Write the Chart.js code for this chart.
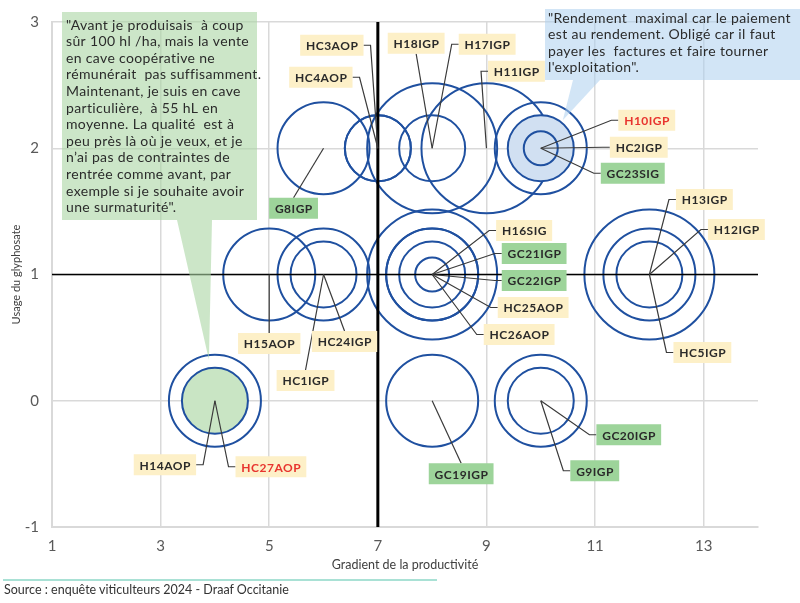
<!DOCTYPE html>
<html lang="fr">
<head>
<meta charset="utf-8">
<script src="https://cdn.jsdelivr.net/npm/chart.js@4.4.1/dist/chart.umd.min.js"></script>
<style>
html, body { margin: 0; padding: 0; background: #fff; }
#cadre { position: relative; width: 800px; height: 603px; }
#source { position: absolute; left: 4px; top: 582px; font: 12.5px 'Lato', sans-serif; color: #333; }
#trait { position: absolute; left: 3px; top: 579px; width: 434px; height: 2px; background: #a9e1d5; }
</style>
</head>
<body>
<div id="cadre">
  <canvas id="bulles" width="800" height="603"></canvas>
  <div id="trait"></div>
  <div id="source">Source : enquête viticulteurs 2024 - Draaf Occitanie</div>
</div>
<script>
// Données : une exploitation par bulle
const etiquettes = ['HC3AOP', 'HC4AOP', 'H18IGP', 'H17IGP', 'H11IGP', 'H10IGP', 'HC2IGP', 'GC23SIG', 'G8IGP',
    'H13IGP', 'H12IGP', 'HC5IGP', 'H16SIG', 'GC21IGP', 'GC22IGP', 'HC25AOP', 'HC26AOP', 'H15AOP', 'HC24IGP', 'HC1IGP',
    'H14AOP', 'HC27AOP', 'GC19IGP', 'GC20IGP', 'G9IGP'];
const gradient = [7, 7, 8, 8, 9, 10, 10, 10, 6, 12, 12, 12, 8, 8, 8, 8, 8, 5, 6, 6, 4, 4, 8, 10, 10];
const glyphosate = [2, 2, 2, 2, 2, 2, 2, 2, 2, 1, 1, 1, 1, 1, 1, 1, 1, 1, 1, 1, 0, 0, 0, 0, 0];
const classeTaille = [2, 2, 2, 4, 4, 2, 3, 1, 3, 4, 2, 3, 4, 1, 2, 3, 3, 3, 3, 2, 3, 2, 3, 3, 2];
const enValeur = ['H10IGP', 'HC27AOP'];

const ticksX = [1, 3, 5, 7, 9, 11, 13];
const ticksY = [-1, 0, 1, 2, 3];
const medianeX = 7;
const medianeY = 1;

const citationCave = [
    '"Avant je produisais  à coup',
    'sûr 100 hl /ha, mais la vente',
    'en cave coopérative ne',
    'rémunérait  pas suffisamment.',
    'Maintenant, je suis en cave',
    'particulière,  à 55 hL en',
    'moyenne. La qualité  est à',
    'peu près là où je veux, et je',
    'n\u2019ai pas de contraintes de',
    'rentrée comme avant, par',
    'exemple si je souhaite avoir',
    'une surmaturité".'
];
const citationRendement = [
    '"Rendement  maximal car le paiement',
    'est au rendement. Obligé car il faut',
    'payer les  factures et faire tourner',
    'l\'exploitation".'
];

// Mise en forme (pixels)
const rayons = [0, 17, 33, 46, 65];
const placement = {
    HC3AOP: [-46, -103, 'r'], HC4AOP: [-57, -71, 'r'], H18IGP: [-16, -105, 'b'], H17IGP: [55, -104, 'l'],
    H11IGP: [30, -77, 'l'], H10IGP: [106, -28, 'l'], HC2IGP: [98, -1, 'l'], GC23SIG: [92, 25, 'l'],
    G8IGP: [-30, 60, 't'], H13IGP: [55, -75, 'l'], H12IGP: [87, -45, 'l'], HC5IGP: [53, 78, 'l'],
    H16SIG: [92, -44, 'l'], GC21IGP: [102, -21, 'l'], GC22IGP: [102, 6, 'l'], HC25AOP: [101, 33, 'l'],
    HC26AOP: [87, 60, 'l'], H15AOP: [0, 69, 't'], HC24IGP: [21, 67, 't'], HC1IGP: [-18, 106, 't'],
    H14AOP: [-50, 64, 'r'], HC27AOP: [56, 66, 'l'], GC19IGP: [29, 73, 't'], GC20IGP: [88, 34, 'l'],
    G9IGP: [54, 70, 'l']
};
const bulles = [
    { cible: 'HC27AOP', boite: [62, 12, 195, 208], base: [177, 212], pointe: [-6, -41],
      couleur: 'rgba(170, 213, 163, 0.6)', lignes: citationCave, tx: 66, ty: 25 },
    { cible: 'H10IGP', boite: [545, 9, 255, 71], base: [573, 600], pointe: [22, -28],
      couleur: 'rgba(173, 207, 238, 0.55)', lignes: citationRendement, tx: 548, ty: 18 }
];

const ordre = etiquettes.map((_, i) => i).sort((a, b) => classeTaille[b] - classeTaille[a]);
const points = ordre.map(i => ({ x: gradient[i], y: glyphosate[i], r: rayons[classeTaille[i]], nom: etiquettes[i] }));

const reperes = {
    id: 'reperes',
    afterDatasetsDraw(chart) {
        const { ctx, chartArea: a, scales: { x, y } } = chart;
        ctx.save();
        ctx.strokeStyle = '#000';
        ctx.lineWidth = 3;
        const px = x.getPixelForValue(medianeX);
        ctx.beginPath(); ctx.moveTo(px, a.top); ctx.lineTo(px, a.bottom); ctx.stroke();
        ctx.lineWidth = 1.6;
        const py = y.getPixelForValue(medianeY);
        ctx.beginPath(); ctx.moveTo(a.left, py); ctx.lineTo(a.right, py); ctx.stroke();
        ctx.restore();
    }
};

const etiquettesPlugin = {
    id: 'etiquettes',
    afterDatasetsDraw(chart) {
        const { ctx, scales: { x, y } } = chart;
        ctx.save();
        ctx.font = "bold 12px 'Lato', sans-serif";
        ctx.letterSpacing = '0.5px';
        const boites = etiquettes.map((nom, i) => {
            const cx = x.getPixelForValue(gradient[i]), cy = y.getPixelForValue(glyphosate[i]);
            const [dx, dy, cote] = placement[nom];
            const w = ctx.measureText(nom).width + 11, h = 21;
            return { nom, cx, cy, bx: cx + dx, by: cy + dy, w, h, cote };
        });
        ctx.strokeStyle = '#3a3a3a';
        ctx.lineWidth = 1.2;
        boites.forEach(b => {
            ctx.beginPath();
            ctx.moveTo(b.cx, b.cy);
            if (b.cote === 'l') { ctx.lineTo(b.bx - b.w / 2 - 7, b.by); ctx.lineTo(b.bx - b.w / 2, b.by); }
            else if (b.cote === 'r') { ctx.lineTo(b.bx + b.w / 2 + 7, b.by); ctx.lineTo(b.bx + b.w / 2, b.by); }
            else if (b.cote === 't') ctx.lineTo(b.bx, b.by - b.h / 2);
            else ctx.lineTo(b.bx, b.by + b.h / 2);
            ctx.stroke();
        });
        ctx.textAlign = 'center';
        ctx.textBaseline = 'middle';
        boites.forEach(b => {
            ctx.fillStyle = b.nom.startsWith('G') ? '#9dd49a' : '#fdf0c8';
            ctx.fillRect(b.bx - b.w / 2, b.by - b.h / 2, b.w, b.h);
            ctx.fillStyle = enValeur.includes(b.nom) ? '#e8342e' : '#2a2a2a';
            ctx.fillText(b.nom, b.bx + 0.3, b.by + 1);
        });
        ctx.restore();
    }
};

const citations = {
    id: 'citations',
    afterDatasetsDraw(chart) {
        const { ctx, scales: { x, y } } = chart;
        ctx.save();
        bulles.forEach(q => {
            const i = etiquettes.indexOf(q.cible);
            const tipX = x.getPixelForValue(gradient[i]) + q.pointe[0];
            const tipY = y.getPixelForValue(glyphosate[i]) + q.pointe[1];
            const [l, t, w, h] = q.boite;
            ctx.fillStyle = q.couleur;
            ctx.beginPath();
            ctx.moveTo(l, t); ctx.lineTo(l + w, t); ctx.lineTo(l + w, t + h);
            ctx.lineTo(q.base[1], t + h); ctx.lineTo(tipX, tipY); ctx.lineTo(q.base[0], t + h);
            ctx.lineTo(l, t + h); ctx.closePath();
            ctx.fill();
            ctx.fillStyle = '#2b2b2b';
            ctx.font = "14px 'Lato', sans-serif";
            ctx.letterSpacing = '0.35px';
            ctx.textAlign = 'left';
            ctx.textBaseline = 'middle';
            q.lignes.forEach((ligne, k) => ctx.fillText(ligne, q.tx, q.ty + k * 16.6));
        });
        ctx.restore();
    }
};

new Chart(document.getElementById('bulles'), {
    type: 'bubble',
    data: {
        datasets: [{
            data: points,
            borderColor: '#1f50a0',
            borderWidth: 2,
            backgroundColor: ctx => {
                const nom = ctx.raw && ctx.raw.nom;
                if (nom === 'HC27AOP') return '#c9e5c4';
                if (nom === 'H10IGP') return '#d1e0f2';
                return 'rgba(0,0,0,0)';
            }
        }]
    },
    options: {
        responsive: false,
        animation: false,
        events: [],
        layout: { autoPadding: false, padding: { left: 0, top: 11, right: 42, bottom: 26 } },
        plugins: { legend: { display: false }, tooltip: { enabled: false } },
        scales: {
            x: {
                type: 'linear', min: 1, max: 14,
                afterBuildTicks: s => { s.ticks = ticksX.map(v => ({ value: v })); },
                afterFit: s => { s.height = 50; },
                grid: { color: '#d9d9d9', lineWidth: 1.5, drawTicks: false },
                border: { color: '#d9d9d9', width: 2 },
                ticks: { color: '#595959', padding: 10, font: { family: "'Lato', sans-serif", size: 15 } },
                title: { display: true, text: 'Gradient de la productivité', color: '#404040',
                    padding: { top: 0, bottom: 5 }, font: { family: "'Lato', sans-serif", size: 12.5 } }
            },
            y: {
                type: 'linear', min: -1, max: 3,
                afterBuildTicks: s => { s.ticks = ticksY.map(v => ({ value: v })); },
                afterFit: s => { s.width = 52; },
                grid: { color: '#d9d9d9', lineWidth: 1.5, drawTicks: false },
                border: { color: '#d9d9d9', width: 2 },
                ticks: { color: '#595959', padding: 13, font: { family: "'Lato', sans-serif", size: 15 } },
                title: { display: true, text: 'Usage du glyphosate', color: '#404040',
                    padding: { top: 10, bottom: 0 }, font: { family: "'Lato', sans-serif", size: 11 } }
            }
        }
    },
    plugins: [reperes, citations, etiquettesPlugin]
});
</script>
</body>
</html>
